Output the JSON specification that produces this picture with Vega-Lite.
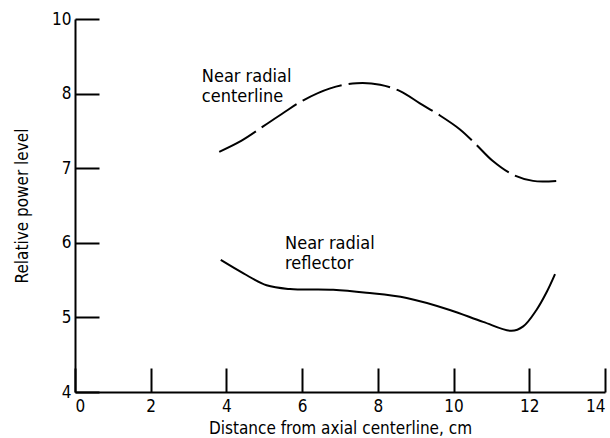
{
  "$schema": "https://vega.github.io/schema/vega-lite/v6.json",
  "autosize": {"type": "none"},
  "padding": {"left": 75, "top": 19, "right": 5, "bottom": 46},
  "width": 530,
  "height": 373,
  "background": "white",
  "config": {
    "view": {"stroke": null},
    "font": "DejaVu Sans Condensed",
    "axis": {
      "domainColor": "black",
      "domainWidth": 2,
      "tickColor": "black",
      "tickWidth": 2,
      "grid": false,
      "labelColor": "black",
      "titleColor": "black",
      "labelFont": "DejaVu Sans Condensed",
      "titleFont": "DejaVu Sans Condensed",
      "labelFontSize": 17,
      "titleFontSize": 17,
      "titleFontWeight": "normal"
    }
  },
  "datasets": {
    "curves": [
      {"series": "centerline", "x": 3.81, "y": 7.22},
      {"series": "centerline", "x": 4.4, "y": 7.37},
      {"series": "centerline", "x": 4.97, "y": 7.56},
      {"series": "centerline", "x": 5.5, "y": 7.74},
      {"series": "centerline", "x": 6.03, "y": 7.91},
      {"series": "centerline", "x": 6.74, "y": 8.07},
      {"series": "centerline", "x": 7.44, "y": 8.14},
      {"series": "centerline", "x": 8.06, "y": 8.12},
      {"series": "centerline", "x": 8.6, "y": 8.03},
      {"series": "centerline", "x": 9.11, "y": 7.87},
      {"series": "centerline", "x": 9.6, "y": 7.72},
      {"series": "centerline", "x": 10.17, "y": 7.52},
      {"series": "centerline", "x": 10.61, "y": 7.31},
      {"series": "centerline", "x": 11.03, "y": 7.1},
      {"series": "centerline", "x": 11.58, "y": 6.91},
      {"series": "centerline", "x": 12.1, "y": 6.83},
      {"series": "centerline", "x": 12.72, "y": 6.83},
      {"series": "reflector", "x": 3.85, "y": 5.77},
      {"series": "reflector", "x": 4.45, "y": 5.59},
      {"series": "reflector", "x": 5.06, "y": 5.43},
      {"series": "reflector", "x": 5.68, "y": 5.38},
      {"series": "reflector", "x": 6.82, "y": 5.37},
      {"series": "reflector", "x": 7.7, "y": 5.33},
      {"series": "reflector", "x": 8.76, "y": 5.26},
      {"series": "reflector", "x": 9.9, "y": 5.1},
      {"series": "reflector", "x": 10.78, "y": 4.94},
      {"series": "reflector", "x": 11.53, "y": 4.82},
      {"series": "reflector", "x": 11.84, "y": 4.88},
      {"series": "reflector", "x": 12.19, "y": 5.1},
      {"series": "reflector", "x": 12.46, "y": 5.34},
      {"series": "reflector", "x": 12.68, "y": 5.58}
    ],
    "labels": [
      {"x": 3.35, "y": 8.16, "text": ["Near radial", "centerline"]},
      {"x": 5.55, "y": 5.92, "text": ["Near radial", "reflector"]}
    ]
  },
  "layer": [
    {
      "data": {"name": "curves"},
      "transform": [{"filter": "datum.series == 'centerline'"}],
      "mark": {"type": "line", "color": "black", "strokeWidth": 2, "interpolate": "catmull-rom", "strokeDash": [42, 7]},
      "encoding": {
        "x": {
          "field": "x", "type": "quantitative",
          "scale": {"domain": [0, 14], "nice": false},
          "axis": {
            "title": "Distance from axial centerline, cm",
            "values": [0, 2, 4, 6, 8, 10, 12, 14],
            "format": "d",
            "tickSize": -24,
            "labelPadding": 30,
            "titlePadding": 6
          }
        },
        "y": {
          "field": "y", "type": "quantitative",
          "scale": {"domain": [4, 9], "nice": false, "zero": false},
          "axis": {
            "title": "Relative power level",
            "values": [4, 5, 6, 7, 8, 9],
            "format": "d",
            "labelExpr": "datum.value == 9 ? '10' : datum.label",
            "tickSize": -24,
            "labelPadding": 28,
            "titlePadding": 20
          }
        }
      }
    },
    {
      "data": {"name": "curves"},
      "transform": [{"filter": "datum.series == 'reflector'"}],
      "mark": {"type": "line", "color": "black", "strokeWidth": 2, "interpolate": "catmull-rom"},
      "encoding": {
        "x": {"field": "x", "type": "quantitative"},
        "y": {"field": "y", "type": "quantitative"}
      }
    },
    {
      "data": {"name": "labels"},
      "mark": {"type": "text", "align": "left", "baseline": "alphabetic", "fontSize": 18, "lineHeight": 20, "font": "DejaVu Sans Condensed", "color": "black"},
      "encoding": {
        "x": {"field": "x", "type": "quantitative"},
        "y": {"field": "y", "type": "quantitative"},
        "text": {"field": "text"}
      }
    }
  ]
}
